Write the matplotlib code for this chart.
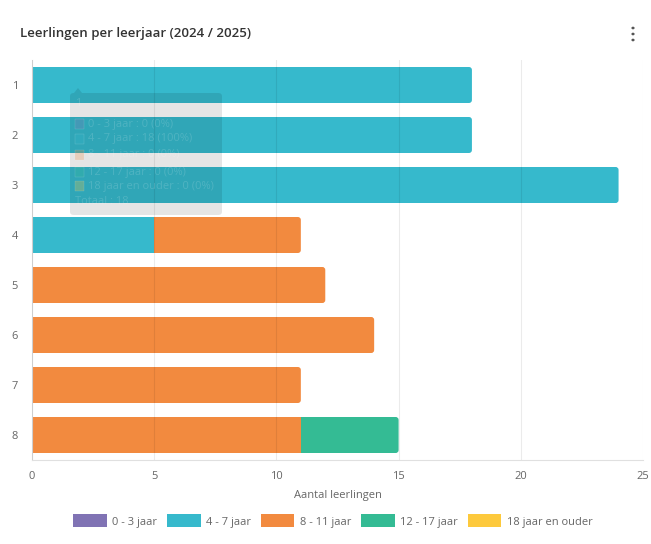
import matplotlib
matplotlib.use("Agg")
import matplotlib.pyplot as plt
from matplotlib.patches import FancyBboxPatch, Rectangle, Polygon, Patch
import numpy as np

plt.rcParams['font.family'] = ['Open Sans', 'DejaVu Sans']

categories = ["1", "2", "3", "4", "5", "6", "7", "8"]
series_names = ["0 - 3 jaar", "4 - 7 jaar", "8 - 11 jaar", "12 - 17 jaar", "18 jaar en ouder"]
v_0_3 = [0, 0, 0, 0, 0, 0, 0, 0]
v_4_7 = [18, 18, 24, 5, 0, 0, 0, 0]
v_8_11 = [0, 0, 0, 6, 12, 14, 11, 11]
v_12_17 = [0, 0, 0, 0, 0, 0, 0, 4]
v_18 = [0, 0, 0, 0, 0, 0, 0, 0]
colors = ["#8073B4", "#36B9CC", "#F28A3F", "#34BB94", "#FDC93C"]
x_ticks = [0, 5, 10, 15, 20, 25]
title = "Leerlingen per leerjaar (2024 / 2025)"
x_label = "Aantal leerlingen"
tooltip_lines = ["1", "0 - 3 jaar : 0 (0%)", "4 - 7 jaar : 18 (100%)", "8 - 11 jaar : 0 (0%)",
                 "12 - 17 jaar : 0 (0%)", "18 jaar en ouder : 0 (0%)", "Totaal : 18"]

W, H = 651, 544
fig = plt.figure(figsize=(W / 100, H / 100), dpi=100)
fig.patch.set_facecolor("white")

def px(x, y):
    return x / W, 1 - y / H

ax = fig.add_axes([32 / W, 1 - 460 / H, (643 - 32) / W, 400 / H])
all_vals = [v_0_3, v_4_7, v_8_11, v_12_17, v_18]
y = np.arange(len(categories))
left = np.zeros(len(categories))
totals = np.sum(all_vals, axis=0)
bar_h = 0.72
rx = 0.12
for vals, c, name in zip(all_vals, colors, series_names):
    vals = np.array(vals, dtype=float)
    for i, v in enumerate(vals):
        if v <= 0:
            continue
        is_last = abs(left[i] + v - totals[i]) < 1e-9
        if is_last:
            ax.add_patch(Rectangle((left[i], y[i] - bar_h / 2), v - 0.3, bar_h,
                                   facecolor=c, edgecolor="none", zorder=2))
            ax.add_patch(FancyBboxPatch((left[i] + v - 0.5, y[i] - bar_h / 2), 0.5, bar_h,
                                        boxstyle=f"round,pad=0,rounding_size={rx}",
                                        mutation_aspect=0.49,
                                        facecolor=c, edgecolor="none", zorder=2))
        else:
            ax.add_patch(Rectangle((left[i], y[i] - bar_h / 2), v, bar_h,
                                   facecolor=c, edgecolor="none", zorder=2))
    left += vals

ax.set_xlim(0, 25)
ax.set_ylim(len(categories) - 0.5, -0.5)
ax.set_yticks(y)
ax.set_yticklabels(categories)
ax.set_xticks(x_ticks)
ax.xaxis.grid(True, color="black", alpha=0.08, linewidth=0.8, zorder=3)
ax.set_axisbelow(False)
for s in ["top", "right"]:
    ax.spines[s].set_visible(False)
ax.spines["left"].set_color("#e0e0e0")
ax.spines["bottom"].set_color("#e0e0e0")
ax.tick_params(axis="both", length=0, labelsize=8, labelcolor="#666666")
ax.tick_params(axis="y", pad=10)
ax.tick_params(axis="x", pad=8)
ax.set_xlabel(x_label, fontsize=8, color="#666666", labelpad=6)

fig.text(*px(20, 34), title, fontsize=9.5, color="#333333", va="center", ha="left", fontweight="semibold")
for dy in (-6, 0, 6):
    fig.patches.append(plt.Circle(px(633, 34 + dy), 1.6 / W, transform=fig.transFigure,
                                  facecolor="#555555", edgecolor="none"))

# tooltip overlay
tx0, ty0, tx1, ty1 = 70, 93, 222, 215
fig.patches.append(FancyBboxPatch(px(tx0, ty1), (tx1 - tx0) / W, (ty1 - ty0) / H,
                                  boxstyle="round,pad=0,rounding_size=0.006",
                                  transform=fig.transFigure, facecolor="black", alpha=0.1,
                                  edgecolor="none", zorder=10))
fig.patches.append(Polygon([px(74, 93), px(78, 88), px(82, 93)], closed=True,
                           transform=fig.transFigure, facecolor="black", alpha=0.1,
                           edgecolor="none", zorder=10))
line_ys = [103, 124, 139, 155, 172, 186, 201]
for k, (t, ly) in enumerate(zip(tooltip_lines, line_ys)):
    if 1 <= k <= 5:
        c = colors[k - 1]
        fig.patches.append(Rectangle(px(75, ly + 5), 9 / W, 10 / H, transform=fig.transFigure,
                                     facecolor=c, alpha=0.25, edgecolor="white", lw=0.3, zorder=11))
        fig.text(*px(88, ly), t, fontsize=8, color="white", alpha=0.15, va="center", ha="left", zorder=11)
    else:
        fig.text(*px(75, ly), t, fontsize=8, color="white", alpha=0.15, va="center", ha="left", zorder=11)

handles = [Patch(facecolor=c, edgecolor="none", label=n) for c, n in zip(colors, series_names)]
fig.legend(handles=handles, loc="center", bbox_to_anchor=px(333, 521), ncol=5, frameon=False,
           fontsize=8, labelcolor="#666666", handlelength=3.0, handleheight=1.4,
           columnspacing=0.9, handletextpad=0.5)

fig.savefig("out.png", dpi=100)
